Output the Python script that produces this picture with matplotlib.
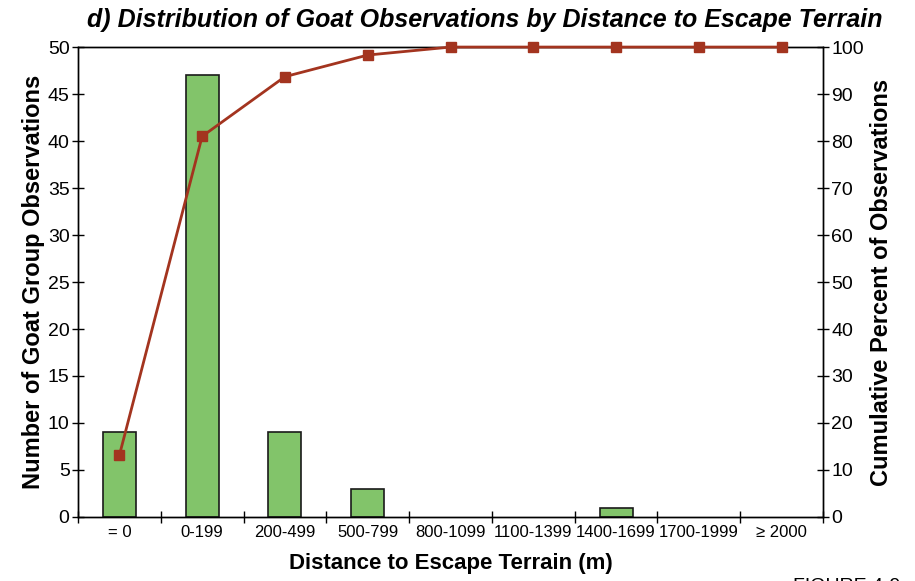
import matplotlib
matplotlib.use('Agg')
from matplotlib import pyplot as plt
import numpy as np

# data
categories = ['= 0', '0-199', '200-499', '500-799', '800-1099',
              '1100-1399', '1400-1699', '1700-1999', '\u2265 2000']
counts = [9, 47, 9, 3, 0, 0, 1, 0, 0]
cum_pct = [13.1, 81.0, 93.7, 98.3, 100, 100, 100, 100, 100]

plt.rcParams['font.family'] = ['Liberation Sans', 'DejaVu Sans']

fig = plt.figure(figsize=(9.15, 5.81), dpi=100)
ax = fig.add_axes([0.0852, 0.1102, 0.8143, 0.8088])

x = np.arange(len(categories))
# empty classes get no outline (no flat line on the axis)
edges = ['#1a1a1a' if c > 0 else 'none' for c in counts]
ax.bar(x, counts, width=0.4, color='#82C46A', edgecolor=edges, linewidth=1.2, zorder=2)
ax.set_xlim(-0.5, len(categories) - 0.5)
ax.set_ylim(0, 50)
ax.set_yticks(range(0, 51, 5))
ax.set_xticks(np.arange(len(categories) + 1) - 0.5)
ax.set_xticklabels([])
ax.set_xticks(x, minor=True)
ax.set_xticklabels(categories, minor=True, fontsize=12)
ax.tick_params(axis='x', which='minor', length=0, pad=6)
ax.tick_params(axis='x', which='major', direction='inout', length=8, width=1)
ax.tick_params(axis='y', direction='inout', length=8, width=1, labelsize=14, pad=2)

ax2 = ax.twinx()
ax2.plot(x, cum_pct, color='#A3341F', lw=2, marker='s', ms=7, zorder=3, clip_on=False)
ax2.set_ylim(0, 100)
ax2.set_yticks(range(0, 101, 10))
ax2.tick_params(axis='y', direction='inout', length=8, width=1, labelsize=14, pad=2)

ax.set_ylabel('Number of Goat Group Observations', fontsize=17, fontweight='bold', labelpad=2)
ax2.set_ylabel('Cumulative Percent of Observations', fontsize=17, fontweight='bold', labelpad=4)
ax.set_xlabel('Distance to Escape Terrain (m)', fontsize=16, fontweight='bold', labelpad=9)
fig.text(0.53, 0.965, 'd) Distribution of Goat Observations by Distance to Escape Terrain',
         ha='center', va='center', fontsize=18, fontweight='bold', fontstyle='italic')
fig.text(0.867, 0.006, 'FIGURE 4-9', ha='left', va='top', fontsize=14)

for a in (ax, ax2):
    for s in a.spines.values():
        s.set_linewidth(1)

plt.savefig('out.png', dpi=100)
